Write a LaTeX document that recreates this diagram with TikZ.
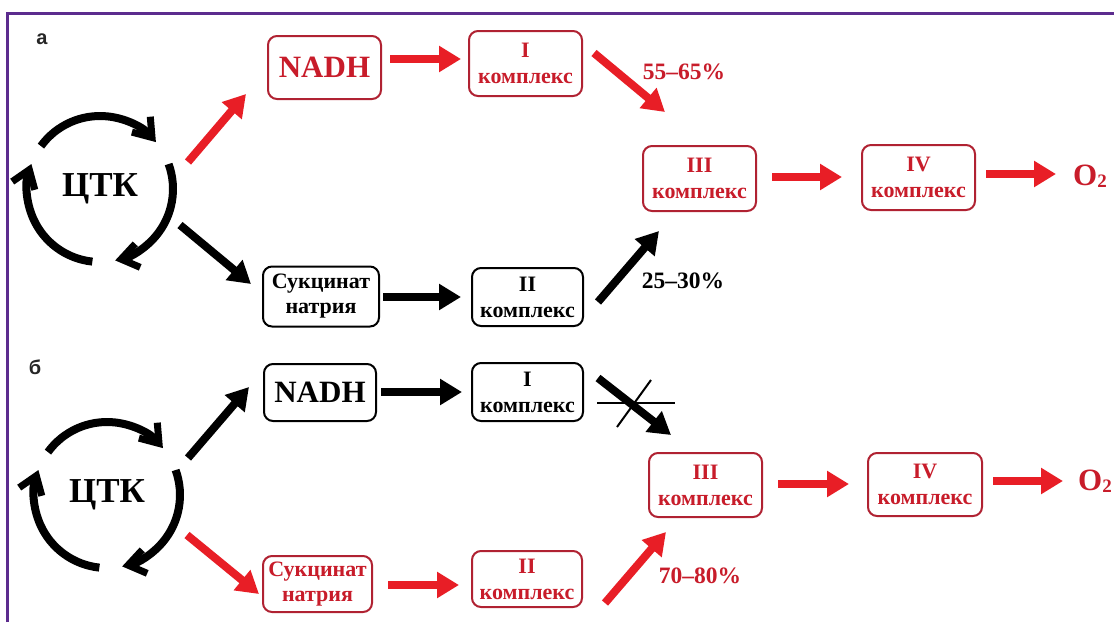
\documentclass[tikz,border=0pt]{standalone}
\usepackage{fontspec}
\setmainfont{Liberation Serif}
\newfontfamily\labfont{Liberation Sans}
\usetikzlibrary{arrows.meta}
\definecolor{arr}{RGB}{232,30,38}
\definecolor{boxred}{RGB}{176,34,50}
\definecolor{txtred}{RGB}{200,28,42}
\definecolor{framec}{RGB}{92,44,142}
\begin{document}
\begin{tikzpicture}[x=1pt,y=-1pt,
  box/.style={draw, rounded corners=9pt, line width=2pt, inner sep=0pt, align=center,
    font=\fontsize{22}{26}\selectfont\bfseries},
  rbox/.style={box, draw=boxred, text=txtred},
  kbox/.style={box, draw=black, text=black},
  conn/.style={line width=8pt, -{Triangle[length=22pt,width=25pt]}},
  rconn/.style={conn, draw=arr},
  kconn/.style={conn, draw=black},
  cyc/.style={line width=8pt, draw=black, -{Straight Barb[length=17pt,width=24pt,line width=7pt]}},
  big/.style={font=\fontsize{35}{35}\selectfont\bfseries},
  pct/.style={font=\fontsize{23.5}{23.5}\selectfont\bfseries},
  oxy/.style={font=\fontsize{31}{31}\selectfont\bfseries, text=txtred},
  lab/.style={font=\labfont\fontsize{20}{20}\selectfont\bfseries, text=black!85}
]
\useasboundingbox (0,0) rectangle (1114,622);
\fill[white] (0,0) rectangle (1114,622);
\draw[framec, line width=3pt] (7,622) -- (7,13.5) -- (1114,13.5);

% ---------------- panel a ----------------
\node[lab] (la) at (42,39) {а};
\node[big] (ctkA) at (100,189) {ЦТК};
\draw[cyc] ([shift={(-144:73)}]ctkA.center) arc[start angle=-144, end angle=-40, radius=73];
\draw[cyc] ([shift={(-20:73)}]ctkA.center) arc[start angle=-20, end angle=78, radius=73];
\draw[cyc] ([shift={(96:73)}]ctkA.center) arc[start angle=96, end angle=200, radius=73];

\node[rbox, minimum width=113pt, minimum height=63pt, font=\fontsize{31}{31}\selectfont\bfseries] (nadhA) at (324.5,67.5) {NADH};
\node[rbox, minimum width=113pt, minimum height=65pt] (c1A) at (525.5,63.5) {I\\комплекс};
\node[rbox, minimum width=113pt, minimum height=65pt] (c3A) at (699.5,178.5) {III\\комплекс};
\node[rbox, minimum width=113pt, minimum height=65pt] (c4A) at (918.5,177.5) {IV\\комплекс};
\node[oxy] (o2A) at (1090,176) {O\raisebox{-2pt}{\fontsize{19}{19}\selectfont 2}};
\node[kbox, minimum width=116pt, minimum height=60pt, font=\fontsize{22}{25}\selectfont\bfseries] (sucA) at (321,296.5) {Сукцинат\\натрия};
\node[kbox, minimum width=111pt, minimum height=58pt] (c2A) at (527.5,297) {II\\комплекс};
\node[pct, text=txtred] (p1) at (684,72) {55--65\%};
\node[pct] (p2) at (683,281) {25--30\%};

\coordinate (a1s) at (188,162); \coordinate (a1e) at (246,94);
\coordinate (a2s) at (390,59);  \coordinate (a2e) at (461,59);
\coordinate (a3s) at (594,53);  \coordinate (a3e) at (665,112);
\coordinate (a4s) at (772,177); \coordinate (a4e) at (842,177);
\coordinate (a5s) at (986,174); \coordinate (a5e) at (1056,174);
\coordinate (a6s) at (180,225); \coordinate (a6e) at (251,284);
\coordinate (a7s) at (383,297); \coordinate (a7e) at (461,297);
\coordinate (a8s) at (598,302); \coordinate (a8e) at (659,231);
\draw[rconn] (a1s) -- (a1e);
\draw[rconn] (a2s) -- (a2e);
\draw[rconn] (a3s) -- (a3e);
\draw[rconn] (a4s) -- (a4e);
\draw[rconn] (a5s) -- (a5e);
\draw[kconn] (a6s) -- (a6e);
\draw[kconn] (a7s) -- (a7e);
\draw[kconn] (a8s) -- (a8e);

% ---------------- panel b ----------------
\node[lab] (lb) at (35,367) {б};
\node[big] (ctkB) at (107,495) {ЦТК};
\draw[cyc] ([shift={(-144:73)}]ctkB.center) arc[start angle=-144, end angle=-40, radius=73];
\draw[cyc] ([shift={(-20:73)}]ctkB.center) arc[start angle=-20, end angle=78, radius=73];
\draw[cyc] ([shift={(96:73)}]ctkB.center) arc[start angle=96, end angle=200, radius=73];

\node[kbox, minimum width=112pt, minimum height=57pt, font=\fontsize{31}{31}\selectfont\bfseries] (nadhB) at (320,392.5) {NADH};
\node[kbox, minimum width=111pt, minimum height=58pt] (c1B) at (527.5,392) {I\\комплекс};
\node[rbox, minimum width=113pt, minimum height=64pt] (c3B) at (705.5,485) {III\\комплекс};
\node[rbox, minimum width=114pt, minimum height=63pt] (c4B) at (925,484.5) {IV\\комплекс};
\node[oxy] (o2B) at (1095,481) {O\raisebox{-2pt}{\fontsize{19}{19}\selectfont 2}};
\node[rbox, minimum width=109pt, minimum height=56pt, font=\fontsize{22}{25}\selectfont\bfseries] (sucB) at (317.5,584) {Сукцинат\\натрия};
\node[rbox, minimum width=110pt, minimum height=56pt] (c2B) at (527,579) {II\\комплекс};
\node[pct, text=txtred] (p3) at (700,576) {70--80\%};

\coordinate (b1s) at (188,458); \coordinate (b1e) at (249,387);
\coordinate (b2s) at (381,392); \coordinate (b2e) at (462,392);
\coordinate (b3s) at (598,378); \coordinate (b3e) at (671,435);
\coordinate (b4s) at (778,484); \coordinate (b4e) at (849,484);
\coordinate (b5s) at (993,481); \coordinate (b5e) at (1063,481);
\coordinate (b6s) at (187,535); \coordinate (b6e) at (259,594);
\coordinate (b7s) at (388,585); \coordinate (b7e) at (459,585);
\coordinate (b8s) at (605,603); \coordinate (b8e) at (666,532);
\draw[kconn] (b1s) -- (b1e);
\draw[kconn] (b2s) -- (b2e);
\draw[kconn] (b3s) -- (b3e);
\draw[rconn] (b4s) -- (b4e);
\draw[rconn] (b5s) -- (b5e);
\draw[rconn] (b6s) -- (b6e);
\draw[rconn] (b7s) -- (b7e);
\draw[rconn] (b8s) -- (b8e);
% cross-out
\coordinate (x1s) at (597,403); \coordinate (x1e) at (675,403);
\coordinate (x2s) at (617,427); \coordinate (x2e) at (651,380);
\draw[line width=2pt] (x1s) -- (x1e);
\draw[line width=2pt] (x2s) -- (x2e);
\end{tikzpicture}
\end{document}
